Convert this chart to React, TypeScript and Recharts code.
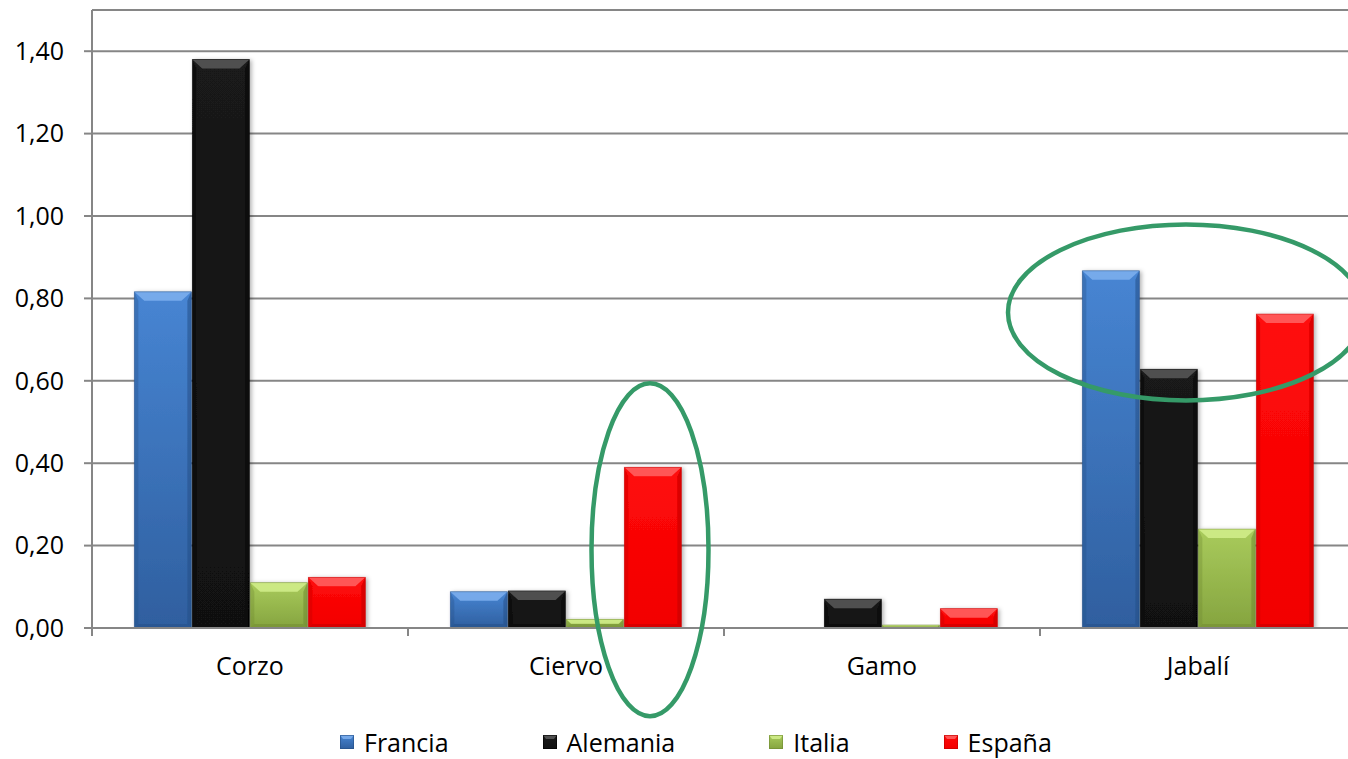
import React from 'react';
import { BarChart, Bar, XAxis, YAxis, CartesianGrid, Legend, ReferenceDot } from 'recharts';

// Densidad por especie y país
const categories = ['Corzo', 'Ciervo', 'Gamo', 'Jabalí'];
const francia = [0.816, 0.088, 0.001, 0.867];
const alemania = [1.38, 0.09, 0.07, 0.628];
const italia = [0.11, 0.021, 0.007, 0.24];
const espana = [0.123, 0.39, 0.047, 0.762];
const yTicks = [0, 0.2, 0.4, 0.6, 0.8, 1.0, 1.2, 1.4];
const seriesNames = ['Francia', 'Alemania', 'Italia', 'España'];

const palette: Record<string, { top: string; bottom: string; bevel: string; edge: string }> = {
  Francia: { top: '#4785d3', bottom: '#2f5f9f', bevel: '#7fb0ee', edge: '#244f86' },
  Alemania: { top: '#1a1a1a', bottom: '#111111', bevel: '#5a5a5a', edge: '#000000' },
  Italia: { top: '#a9cb5c', bottom: '#85a43f', bevel: '#d2ee8c', edge: '#6f8a32' },
  España: { top: '#ff0a0a', bottom: '#f20000', bevel: '#ff6464', edge: '#c00000' },
};

const data = categories.map((name, i) => ({
  name,
  Francia: francia[i],
  Alemania: alemania[i],
  Italia: italia[i],
  España: espana[i],
}));

const FONT = '"Open Sans", sans-serif';
const FONT_SIZE = 25;
const fmt = (v: number) => v.toFixed(2).replace('.', ',');
const gid = (s: string) => 'g' + seriesNames.indexOf(s);

const BevelBar = (props: any) => {
  const { x, y, width, height, seriesName } = props;
  if (width == null || height == null || height <= 0) return null;
  const c = palette[seriesName];
  const t = Math.min(9, height / 2);
  const s = Math.min(10, width / 3, t * 1.1);
  const side = Math.min(4, height / 2);
  return (
    <g filter="url(#barShadow)">
      <rect x={x} y={y} width={width} height={height} fill={`url(#${gid(seriesName)})`} />
      <polygon
        points={`${x},${y} ${x + width},${y} ${x + width - s},${y + t} ${x + s},${y + t}`}
        fill={c.bevel}
        opacity={0.85}
      />
      <polygon
        points={`${x},${y} ${x + side},${y + t} ${x + side},${y + height - side} ${x},${y + height}`}
        fill={c.edge}
        opacity={0.35}
      />
      <polygon
        points={`${x + width},${y} ${x + width - side},${y + t} ${x + width - side},${y + height - side} ${x + width},${y + height}`}
        fill={c.edge}
        opacity={0.55}
      />
      <polygon
        points={`${x},${y + height} ${x + side},${y + height - side} ${x + width - side},${y + height - side} ${x + width},${y + height}`}
        fill={c.edge}
        opacity={0.5}
      />
      <rect x={x} y={y} width={width} height={height} fill="none" stroke={c.edge} strokeWidth={0.8} strokeOpacity={0.6} />
    </g>
  );
};

const CategoryTick = (props: any) => {
  const { x, y, payload } = props;
  const half = payload && payload.offset ? payload.offset : 158;
  return (
    <g>
      <line x1={x - half} y1={y} x2={x - half} y2={y + 8} stroke="#868686" strokeWidth={2} />
      <text x={x} y={y + 47} textAnchor="middle" fontFamily={FONT} fontSize={FONT_SIZE} fill="#000">
        {payload.value}
      </text>
    </g>
  );
};

const Swatch = ({ name }: { name: string }) => {
  const c = palette[name];
  return (
    <svg width={14} height={14} style={{ display: 'block' }}>
      <rect x={0} y={0} width={14} height={14} fill={`url(#${gid(name)}l)`} />
      <polygon points="0,0 14,0 11,4 3,4" fill={c.bevel} opacity={0.85} />
      <rect x={0.5} y={0.5} width={13} height={13} fill="none" stroke={c.edge} strokeOpacity={0.6} />
    </svg>
  );
};

const LegendRow = () => (
  <div style={{ display: 'flex', alignItems: 'center', paddingLeft: 340, height: 61, boxSizing: 'border-box', paddingTop: 26 }}>
    {seriesNames.map((n) => (
      <div key={n} style={{ display: 'flex', alignItems: 'center', marginRight: 94 }}>
        <Swatch name={n} />
        <span style={{ fontFamily: FONT, fontSize: FONT_SIZE, color: '#000', marginLeft: 10, lineHeight: '22px' }}>{n}</span>
      </div>
    ))}
  </div>
);

const Ellipse = (props: any) => {
  const { cx, cy, dx, rx, ry } = props;
  if (cx == null || cy == null) return null;
  return <ellipse cx={cx + dx} cy={cy} rx={rx} ry={ry} fill="none" stroke="#359a68" strokeWidth={4.5} />;
};

export default function App() {
  return (
    <div style={{ position: 'fixed', left: 0, top: 0, width: 1348, height: 759, overflow: 'hidden', background: '#fff' }}>
      <BarChart
        width={1356}
        height={759}
        data={data}
        margin={{ top: 10, right: 0, bottom: 0, left: 0 }}
        barCategoryGap="13.4%"
        barGap={1}
      >
        <defs>
          <filter id="barShadow" x="-20%" y="-20%" width="140%" height="140%">
            <feDropShadow dx={2} dy={1} stdDeviation={2} floodColor="#000" floodOpacity={0.3} />
          </filter>
          {seriesNames.map((n) => (
            <linearGradient key={n} id={gid(n)} x1="0" y1="0" x2="0" y2="1">
              <stop offset="0%" stopColor={palette[n].top} />
              <stop offset="100%" stopColor={palette[n].bottom} />
            </linearGradient>
          ))}
          {seriesNames.map((n) => (
            <linearGradient key={n + 'l'} id={gid(n) + 'l'} x1="0" y1="0" x2="0" y2="1">
              <stop offset="0%" stopColor={palette[n].top} />
              <stop offset="100%" stopColor={palette[n].bottom} />
            </linearGradient>
          ))}
        </defs>
        <CartesianGrid vertical={false} stroke="#868686" strokeWidth={2} />
        <XAxis
          dataKey="name"
          height={70}
          axisLine={{ stroke: '#868686', strokeWidth: 2 }}
          tickLine={false}
          tickSize={0}
          tickMargin={0}
          tick={<CategoryTick />}
          interval={0}
        />
        <YAxis
          width={92}
          domain={[0, 1.5]}
          ticks={yTicks}
          tickFormatter={fmt}
          axisLine={{ stroke: '#868686', strokeWidth: 2 }}
          tickLine={{ stroke: '#868686', strokeWidth: 2 }}
          tickSize={8}
          tickMargin={20}
          tick={{ fontFamily: FONT, fontSize: FONT_SIZE, fill: '#000' }}
          allowDataOverflow
        />
        <Legend verticalAlign="bottom" height={61} content={<LegendRow />} wrapperStyle={{ left: 0, width: 1348 }} />
        {seriesNames.map((n) => (
          <Bar
            key={n}
            dataKey={n}
            fill={palette[n].top}
            isAnimationActive={false}
            shape={(p: any) => <BevelBar {...p} seriesName={n} />}
          />
        ))}
        <ReferenceDot
          x="Ciervo"
          y={0.19}
          ifOverflow="visible"
          shape={(p: any) => <Ellipse {...p} dx={84} rx={58.5} ry={166.5} />}
        />
        <ReferenceDot
          x="Jabalí"
          y={0.766}
          ifOverflow="visible"
          shape={(p: any) => <Ellipse {...p} dx={-12} rx={178} ry={88} />}
        />
      </BarChart>
    </div>
  );
}
